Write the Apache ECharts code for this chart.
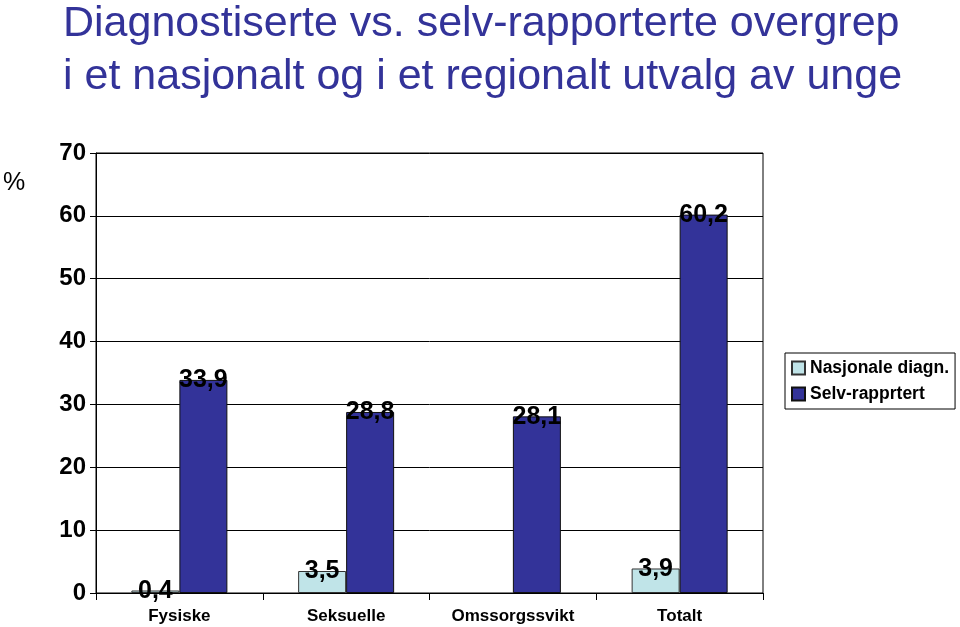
<!DOCTYPE html>
<html>
<head>
<meta charset="utf-8">
<script src="https://cdn.jsdelivr.net/npm/echarts@6/dist/echarts.min.js"></script>
<style>
  html, body { margin: 0; padding: 0; background: #fff; }
  #chart { width: 960px; height: 627px; }
</style>
</head>
<body>
<div id="chart"></div>
<script>
// kategorier og verdier lest av figuren
const categories = ['Fysiske', 'Seksuelle', 'Omssorgssvikt', 'Totalt'];
const nasjonale = [0.4, 3.5, null, 3.9];
const selvRapportert = [33.9, 28.8, 28.1, 60.2];
const seriesNames = ['Nasjonale diagn.', 'Selv-rapprtert'];

const FONT = '"Liberation Sans", Arial, sans-serif';

const fmtLabel = p => String(p.value).replace('.', ',');

const labelStyle = {
  show: true,
  position: 'top',
  distance: 0,
  offset: [0, 13],
  color: '#000',
  fontFamily: FONT,
  fontWeight: 'bold',
  fontSize: 25,
  formatter: fmtLabel
};

const chart = echarts.init(document.getElementById('chart'), null, { renderer: 'canvas' });

const option = {
  backgroundColor: '#fff',
  animation: false,
  title: {
    text: 'Diagnostiserte vs. selv-rapporterte overgrep\ni et nasjonalt og i et regionalt utvalg av unge',
    left: 58,
    top: -7,
    textStyle: {
      color: '#333399',
      fontFamily: FONT,
      fontWeight: 'normal',
      fontSize: 43,
      lineHeight: 53
    }
  },
  graphic: [{
    type: 'text',
    left: 3,
    top: 171,
    style: { text: '%', fontFamily: FONT, fontSize: 25, fill: '#000' }
  }],
  legend: {
    data: seriesNames,
    orient: 'vertical',
    left: 785,
    top: 353,
    icon: 'rect',
    itemWidth: 13,
    itemHeight: 13,
    itemGap: 8,
    padding: [6, 6, 6, 6],
    borderColor: '#000',
    borderWidth: 1,
    textStyle: { fontFamily: FONT, fontWeight: 'bold', fontSize: 17.5, color: '#000' }
  },
  grid: {
    left: 96,
    right: 197,
    top: 153,
    bottom: 34,
    show: true,
    borderColor: '#000',
    borderWidth: 1
  },
  xAxis: {
    type: 'category',
    data: categories,
    axisLine: { lineStyle: { color: '#000', width: 1 } },
    axisTick: { show: true, inside: false, length: 7, lineStyle: { color: '#000' } },
    axisLabel: { color: '#000', fontFamily: FONT, fontWeight: 'bold', fontSize: 17, margin: 15 }
  },
  yAxis: {
    type: 'value',
    min: 0,
    max: 70,
    interval: 10,
    axisLine: { show: true, lineStyle: { color: '#000', width: 1 } },
    axisTick: { show: true, length: 6, lineStyle: { color: '#000' } },
    splitLine: { show: true, lineStyle: { color: '#000', width: 1 } },
    axisLabel: { color: '#000', fontFamily: FONT, fontWeight: 'bold', fontSize: 24, margin: 10 }
  },
  series: [
    {
      name: seriesNames[0],
      type: 'bar',
      data: nasjonale,
      barWidth: 48,
      barGap: '0%',
      itemStyle: { color: '#C0E4E8', borderColor: '#333', borderWidth: 1 },
      label: labelStyle
    },
    {
      name: seriesNames[1],
      type: 'bar',
      data: selvRapportert,
      barWidth: 48,
      barGap: '0%',
      itemStyle: { color: '#333399', borderColor: '#111', borderWidth: 1 },
      label: labelStyle
    }
  ]
};

chart.setOption(option);
</script>
</body>
</html>
